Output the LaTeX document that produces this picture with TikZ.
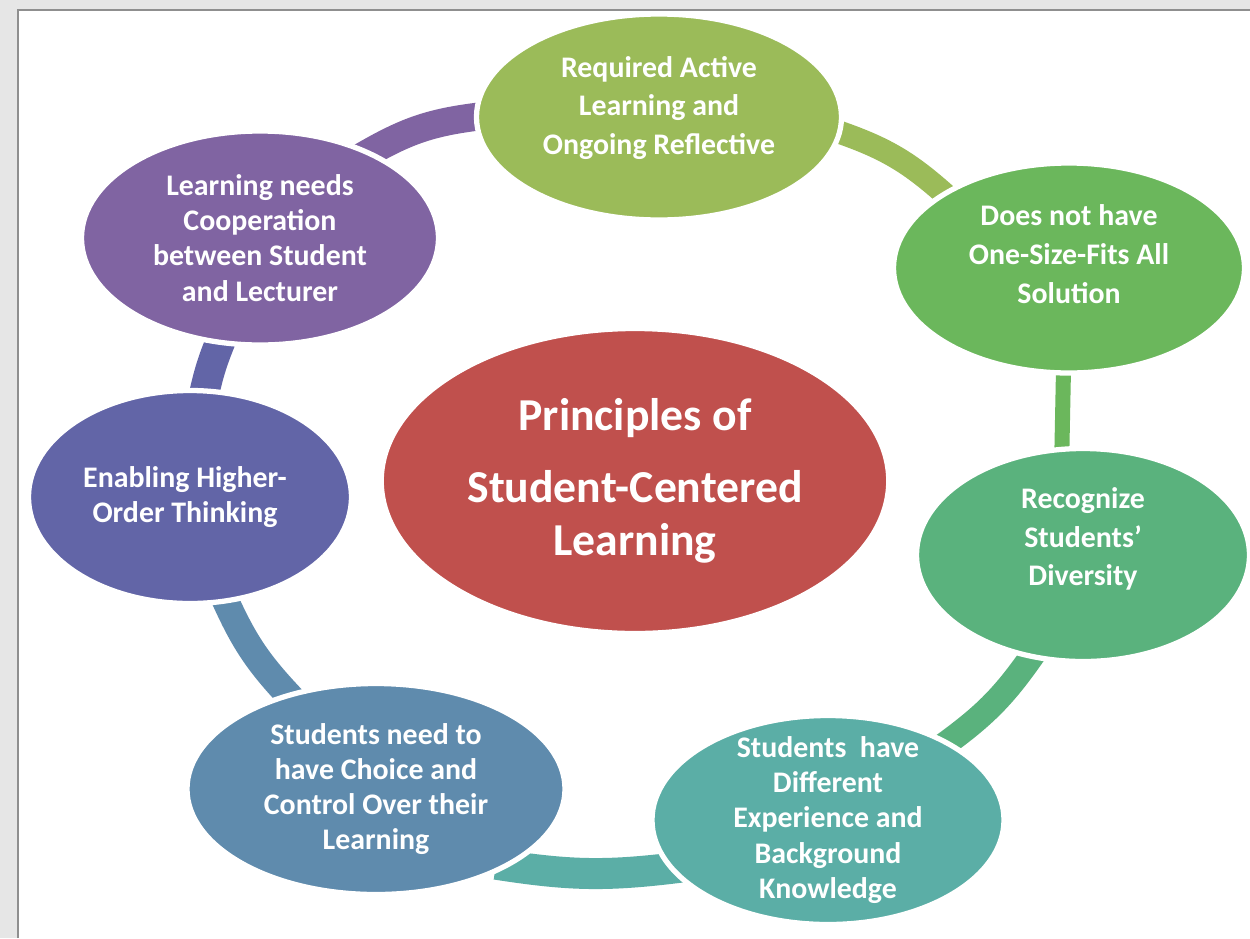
\documentclass[tikz,border=0pt]{standalone}
\usepackage{fontspec}
\setmainfont{Carlito}
\usetikzlibrary{shapes.geometric,backgrounds}

\definecolor{framegray}{HTML}{E6E6E6}
\definecolor{edgegray}{HTML}{8F8F8F}
\definecolor{corered}{HTML}{C0504D}
\definecolor{actgreen}{HTML}{9BBB59}
\definecolor{fitgreen}{HTML}{6BB75C}
\definecolor{divgreen}{HTML}{5AB27D}
\definecolor{expteal}{HTML}{5BAEA6}
\definecolor{choiceblue}{HTML}{5F8BAD}
\definecolor{thinkblue}{HTML}{6265A7}
\definecolor{cooppurple}{HTML}{8064A2}

\tikzset{
  bubble/.style={ellipse, draw=white, line width=3pt, inner sep=0pt},
  btext/.style={text=white, align=center, font=\bfseries\fontsize{17}{20}\selectfont},
  band/.style={line width=#1, shorten <=-8pt, shorten >=-8pt},
}

\begin{document}
\begin{tikzpicture}
  \useasboundingbox (0,0) rectangle (25,-18.76);

  % the eight bubbles
  \node[bubble, fill=corered, minimum width=10.15cm, minimum height=6.1cm] (core) at (12.7,-9.62) {};
  \node[bubble, fill=actgreen, minimum width=7.3cm, minimum height=4.12cm] (act) at (13.18,-2.34) {};
  \node[bubble, fill=fitgreen, minimum width=7.02cm, minimum height=4.2cm] (fit) at (21.38,-5.36) {};
  \node[bubble, fill=divgreen, minimum width=6.66cm, minimum height=4.26cm] (div) at (21.66,-11.1) {};
  \node[bubble, fill=expteal, minimum width=7.04cm, minimum height=4.18cm] (exp) at (16.56,-16.4) {};
  \node[bubble, fill=choiceblue, minimum width=7.56cm, minimum height=4.22cm] (choice) at (7.52,-15.78) {};
  \node[bubble, fill=thinkblue, minimum width=6.46cm, minimum height=4.26cm] (think) at (3.8,-9.94) {};
  \node[bubble, fill=cooppurple, minimum width=7.14cm, minimum height=4.28cm] (coop) at (5.2,-4.76) {};

  % texts
  \node[btext, font=\bfseries\fontsize{26}{30}\selectfont] (core-t) at (core)
    {Principles of\\[11pt]Student-Centered\\Learning};
  \node[btext, font=\bfseries\fontsize{17}{22}\selectfont] (act-t) at ([yshift=0.18cm]act.center)
    {Required Active\\Learning and\\Ongoing Reflective};
  \node[btext, font=\bfseries\fontsize{17}{22}\selectfont] (fit-t) at ([yshift=0.28cm]fit.center)
    {Does not have\\One-Size-Fits All\\Solution};
  \node[btext, font=\bfseries\fontsize{17}{22}\selectfont] (div-t) at ([yshift=0.32cm]div.center)
    {Recognize\\Students’\\Diversity};
  \node[btext] (exp-t) at (exp)
    {Students \ have\\Different\\Experience and\\Background\\Knowledge};
  \node[btext] (choice-t) at (choice)
    {Students need to\\have Choice and\\Control Over their\\Learning};
  \node[btext] (think-t) at ([xshift=-0.1cm]think.center)
    {Enabling Higher-\\Order Thinking};
  \node[btext] (coop-t) at (coop)
    {Learning needs\\Cooperation\\between Student\\and Lecturer};

  \begin{scope}[on background layer]
    % page frame
    \fill[framegray] (0,0) rectangle (25,-18.76);
    \fill[white] (0.36,-0.2) rectangle (25,-18.76);
    \draw[edgegray, line width=1.2pt] (0.36,-18.76) |- (25,-0.2);

    % ring of bands between the bubbles
    \draw[cooppurple, band=0.56cm] (coop.38) to[bend left=12] (act.180);
    \draw[actgreen, band=0.46cm] (act.-5) to[bend left=12] (fit.149);
    \draw[fitgreen, band=0.3cm] (fit.-93) -- (div.101);
    \draw[divgreen, band=0.5cm] (div.-117) to[bend left=10] (exp.33);
    \draw[expteal, band=0.62cm] (exp.197) to[bend left=8] (choice.-30);
    \draw[choiceblue, band=0.54cm] (choice.133) to[bend left=10] (think.-71);
    \draw[thinkblue, band=0.6cm] (think.82) to[bend left=5] (coop.-111);
  \end{scope}
\end{tikzpicture}
\end{document}
